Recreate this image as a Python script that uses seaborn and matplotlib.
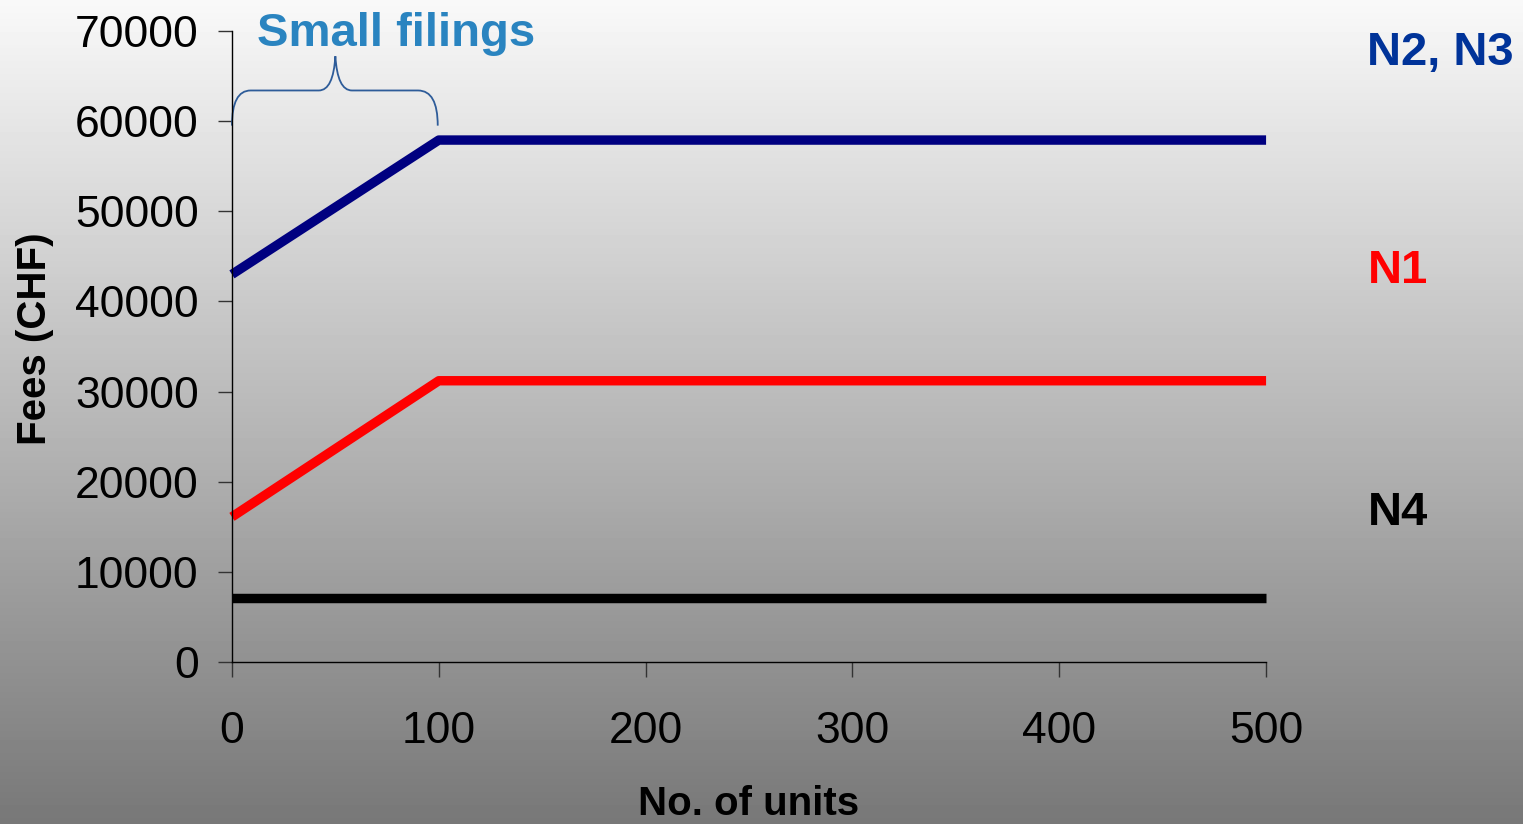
import numpy as np
import matplotlib
matplotlib.use("Agg")
import matplotlib.pyplot as plt
import matplotlib.patches as mpatches
from matplotlib.path import Path
import seaborn as sns
import pandas as pd

# data
units = [0, 100, 200, 300, 400, 500]
fees_n2n3 = [43000, 57900, 57900, 57900, 57900, 57900]
fees_n1 = [16100, 31200, 31200, 31200, 31200, 31200]
fees_n4 = [7100, 7100, 7100, 7100, 7100, 7100]
series_names = ["N2, N3", "N1", "N4"]
series_colors = ["#000080", "#ff0000", "#000000"]
label_colors = ["#003399", "#ff0000", "#000000"]
label_y = [67600, 43400, 16500]
y_ticks = [0, 10000, 20000, 30000, 40000, 50000, 60000, 70000]

df = pd.DataFrame({
    "units": units * 3,
    "fees": fees_n2n3 + fees_n1 + fees_n4,
    "series": [s for s in series_names for _ in units],
})

sns.set_style("white")
plt.rcParams['font.family'] = ['Liberation Sans', 'DejaVu Sans']
plt.rcParams['text.color'] = 'black'
plt.rcParams['axes.labelcolor'] = 'black'

fig = plt.figure(figsize=(15.23, 8.24), dpi=100)

# grey gradient background
bg = fig.add_axes([0, 0, 1, 1], zorder=-10)
grad = np.linspace(0.975, 0.47, 256).reshape(-1, 1)
bg.imshow(grad, aspect="auto", cmap="gray", vmin=0, vmax=1, extent=[0, 1, 0, 1])
bg.axis("off")

ax = fig.add_axes([0.1523, 0.1966, 0.6790, 0.7658])
ax.set_facecolor("none")

sns.lineplot(data=df, x="units", y="fees", hue="series", palette=series_colors,
             hue_order=series_names, linewidth=6.8, legend=False, ax=ax)
for line in ax.get_lines():
    line.set_clip_on(False)
    line.set_solid_capstyle("butt")

ax.set_xlim(0, 500)
ax.set_ylim(0, 70000)
ax.set_xticks(units)
ax.set_yticks(y_ticks)
ax.tick_params(axis="x", direction="out", length=11, width=1, color="#333333",
               labelcolor="black", labelsize=32, pad=24, bottom=True)
ax.tick_params(axis="y", direction="out", length=10, width=1, color="#333333",
               labelcolor="black", labelsize=32, pad=14, left=True)
for side in ["top", "right"]:
    ax.spines[side].set_visible(False)
for side in ["left", "bottom"]:
    ax.spines[side].set_color("black")
    ax.spines[side].set_linewidth(1)

ax.set_xlabel("No. of units", fontsize=29, fontweight="bold", labelpad=24)
ax.set_ylabel("Fees (CHF)", fontsize=29, fontweight="bold")
ax.yaxis.set_label_coords(-0.172, 0.513)

for name, col, yy in zip(series_names, label_colors, label_y):
    ax.text(549, yy, name, color=col, fontsize=34, fontweight="bold",
            ha="left", va="center", clip_on=False)

# brace over the small filings range
verts = [(0, 59500), (0, 63400), (9, 63400), (42, 63400),
         (49, 63400), (50, 67200), (51, 63400), (58, 63400),
         (90, 63400), (99.5, 63400), (99.5, 59500)]
codes = [Path.MOVETO, Path.CURVE3, Path.CURVE3, Path.LINETO,
         Path.CURVE3, Path.CURVE3, Path.CURVE3, Path.CURVE3,
         Path.LINETO, Path.CURVE3, Path.CURVE3]
brace = mpatches.PathPatch(Path(verts, codes), facecolor="none",
                           edgecolor="#2e5c99", linewidth=1.3, clip_on=False)
ax.add_patch(brace)
ax.text(12, 69700, "Small filings", color="#2a84c0", fontsize=34,
        fontweight="bold", ha="left", va="center", clip_on=False)

fig.savefig("out.png", dpi=100)
